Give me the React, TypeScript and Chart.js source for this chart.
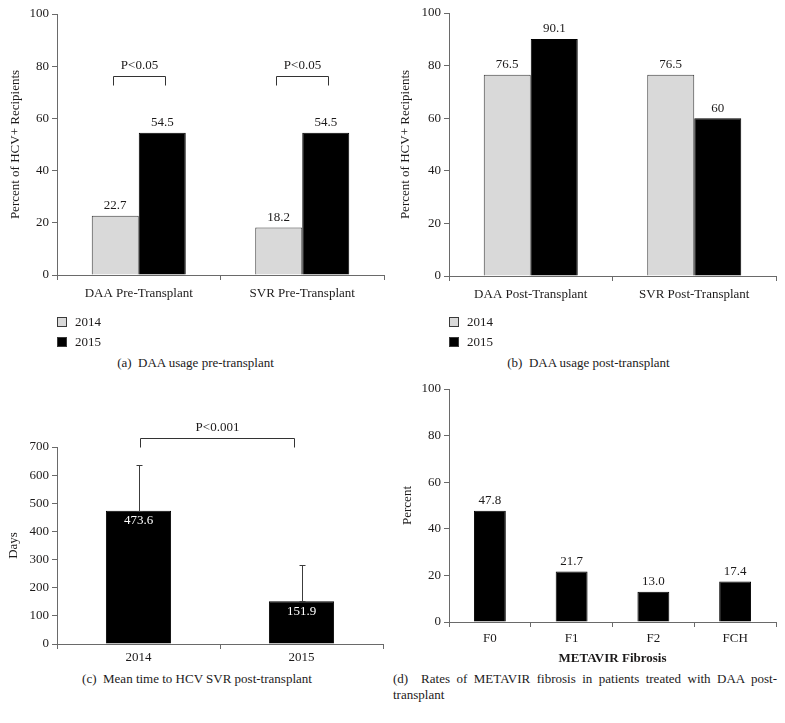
import React, { useEffect, useRef } from "react";
import { Chart, registerables } from "chart.js";

Chart.register(...registerables);

// ---------------- data ----------------
const legendLabels = ["2014", "2015"];

const preCategories = ["DAA Pre-Transplant", "SVR Pre-Transplant"];
const pre2014 = [22.7, 18.2];
const pre2015 = [54.5, 54.5];
const prePValues = ["P<0.05", "P<0.05"];

const postCategories = ["DAA Post-Transplant", "SVR Post-Transplant"];
const post2014 = [76.5, 76.5];
const post2015 = [90.1, 60];

const timeCategories = ["2014", "2015"];
const meanDays = [473.6, 151.9];
const meanDaysError = [162, 129];
const timePValue = "P<0.001";

const fibrosisCategories = ["F0", "F1", "F2", "FCH"];
const fibrosisValues = [47.8, 21.7, 13.0, 17.4];

const percentTicks = [0, 20, 40, 60, 80, 100];
const dayTicks = [0, 100, 200, 300, 400, 500, 600, 700];

const captionA = "(a)\u00a0\u00a0DAA usage pre-transplant";
const captionB = "(b)\u00a0\u00a0DAA usage post-transplant";
const captionC = "(c)\u00a0\u00a0Mean time to HCV SVR post-transplant";
const captionD =
  "(d)\u00a0\u00a0Rates of METAVIR fibrosis in patients treated with DAA post-transplant";

// ---------------- styles ----------------
const FONT = "'Liberation Serif', 'Times New Roman', Times, serif";
const TEXT = "#1c1a1a";
const AXIS = "#6a6a6a";
const GRAY = "#d9d9d9";
const BLACK = "#000000";
const EDGE = "#3a3a3a";
const F13 = { family: FONT, size: 13 };

function yScale(ticks: number[], title: string, titlePad: number) {
  return {
    min: ticks[0],
    max: ticks[ticks.length - 1],
    afterBuildTicks: (s: any) => {
      s.ticks = ticks.map((v) => ({ value: v }));
    },
    afterFit: (s: any) => {
      s.width = 57;
    },
    ticks: { font: F13, color: TEXT, padding: 3 },
    grid: { drawOnChartArea: false, drawTicks: true, tickLength: 5, color: AXIS },
    border: { display: true, color: AXIS, width: 1 },
    title: {
      display: true,
      text: title,
      font: F13,
      color: TEXT,
      padding: { top: titlePad, bottom: 0 },
    },
  };
}

function xScale(height: number, pad: number, title?: string) {
  return {
    type: "category",
    offset: true,
    afterFit: (s: any) => {
      s.height = height;
    },
    ticks: { font: F13, color: TEXT, padding: pad, maxRotation: 0, autoSkip: false },
    grid: { offset: true, drawOnChartArea: false, drawTicks: true, tickLength: 5, color: AXIS },
    border: { display: true, color: AXIS, width: 1 },
    title: title
      ? {
          display: true,
          text: title,
          font: { family: FONT, size: 13, weight: "bold" },
          color: TEXT,
          padding: { top: 0, bottom: 1 },
        }
      : { display: false },
  };
}

// ---------------- plugins ----------------
function valueLabels(format: (v: number) => string, inside = false) {
  return {
    id: "valueLabels",
    afterDatasetsDraw(chart: any) {
      const ctx = chart.ctx;
      ctx.save();
      ctx.font = `13px ${FONT}`;
      ctx.textAlign = "center";
      ctx.textBaseline = "middle";
      chart.data.datasets.forEach((ds: any, d: number) => {
        const meta = chart.getDatasetMeta(d);
        meta.data.forEach((bar: any, i: number) => {
          const v = ds.data[i];
          ctx.fillStyle = inside ? "#ffffff" : TEXT;
          const y = inside ? bar.y + 10 : bar.y - 10;
          ctx.fillText(format(v), bar.x, y);
        });
      });
      ctx.restore();
    },
  };
}

function legendBox(items: { label: string; color: string }[], x: number, y0: number, dy: number) {
  return {
    id: "legendBox",
    afterDraw(chart: any) {
      const ctx = chart.ctx;
      ctx.save();
      ctx.font = `13px ${FONT}`;
      ctx.textBaseline = "middle";
      ctx.textAlign = "left";
      items.forEach((it, i) => {
        const y = y0 + i * dy;
        ctx.fillStyle = it.color;
        ctx.fillRect(x, y - 5, 10, 10);
        ctx.strokeStyle = EDGE;
        ctx.lineWidth = 1;
        ctx.strokeRect(x + 0.5, y - 4.5, 9, 9);
        ctx.fillStyle = TEXT;
        ctx.fillText(it.label, x + 18, y + 0.5);
      });
      ctx.restore();
    },
  };
}

type Bracket = {
  a: [number, number];
  b: [number, number];
  label: string;
  dxA: number;
  dxB: number;
  topPx: number; // pixels above chart top
  legPx: number;
  textPx: number;
};

function brackets(list: Bracket[], baseValue: number) {
  return {
    id: "brackets",
    afterDatasetsDraw(chart: any) {
      const ctx = chart.ctx;
      const ys = chart.scales.y;
      ctx.save();
      ctx.strokeStyle = "#333333";
      ctx.lineWidth = 1;
      ctx.font = `13px ${FONT}`;
      ctx.textAlign = "center";
      ctx.textBaseline = "middle";
      ctx.fillStyle = TEXT;
      list.forEach((br) => {
        const ba = chart.getDatasetMeta(br.a[0]).data[br.a[1]];
        const bb = chart.getDatasetMeta(br.b[0]).data[br.b[1]];
        const x1 = Math.round(ba.x + br.dxA) + 0.5;
        const x2 = Math.round(bb.x + br.dxB) + 0.5;
        const base = ys.getPixelForValue(baseValue);
        const top = Math.round(base - br.topPx) + 0.5;
        const leg = top + br.legPx;
        ctx.beginPath();
        ctx.moveTo(x1, leg);
        ctx.lineTo(x1, top);
        ctx.lineTo(x2, top);
        ctx.lineTo(x2, leg);
        ctx.stroke();
        ctx.fillText(br.label, (x1 + x2) / 2, top - br.textPx);
      });
      ctx.restore();
    },
  };
}

function errorBars(errors: number[]) {
  return {
    id: "errorBars",
    afterDatasetsDraw(chart: any) {
      const ctx = chart.ctx;
      const ys = chart.scales.y;
      const ds = chart.data.datasets[0];
      const meta = chart.getDatasetMeta(0);
      ctx.save();
      ctx.strokeStyle = "#3c3c3c";
      ctx.lineWidth = 1;
      meta.data.forEach((bar: any, i: number) => {
        const x = Math.round(bar.x) + 0.5;
        const yTop = Math.round(ys.getPixelForValue(ds.data[i] + errors[i])) + 0.5;
        const yBase = Math.round(bar.y) + 0.5;
        ctx.beginPath();
        ctx.moveTo(x, yBase);
        ctx.lineTo(x, yTop);
        ctx.moveTo(x - 3, yTop);
        ctx.lineTo(x + 3, yTop);
        ctx.moveTo(x - 3, yBase);
        ctx.lineTo(x + 3, yBase);
        ctx.stroke();
      });
      ctx.restore();
    },
  };
}

const baseOptions = {
  responsive: false,
  animation: false,
  devicePixelRatio: 1,
  events: [],
};

// ---------------- configs ----------------
function pairConfig(
  categories: string[],
  v2014: number[],
  v2015: number[],
  yTitle: string,
  padTop: number,
  plotBottom: number,
  height: number,
  titlePad: number,
  extra: any[]
) {
  const xh = 30;
  return {
    type: "bar",
    data: {
      labels: categories,
      datasets: [
        {
          label: legendLabels[0],
          data: v2014,
          backgroundColor: GRAY,
          borderColor: EDGE,
          borderWidth: 1,
          categoryPercentage: 0.575,
          barPercentage: 1,
        },
        {
          label: legendLabels[1],
          data: v2015,
          backgroundColor: BLACK,
          borderColor: BLACK,
          borderWidth: 1,
          categoryPercentage: 0.575,
          barPercentage: 1,
        },
      ],
    },
    options: {
      ...baseOptions,
      layout: { padding: { top: padTop, right: 6, left: 0, bottom: height - plotBottom - xh } },
      plugins: { legend: { display: false }, tooltip: { enabled: false } },
      scales: { x: xScale(xh, 6), y: yScale(percentTicks, yTitle, titlePad) },
    },
    plugins: [
      valueLabels((v) => String(v)),
      legendBox(
        [
          { label: legendLabels[0], color: GRAY },
          { label: legendLabels[1], color: BLACK },
        ],
        57,
        322,
        20
      ),
      ...extra,
    ],
  };
}

function configA() {
  return pairConfig(preCategories, pre2014, pre2015, "Percent of HCV+ Recipients", 14, 275, 350, 8, [
    brackets(
      prePValues.map((p, i) => ({
        a: [0, i] as [number, number],
        b: [1, i] as [number, number],
        label: p,
        dxA: -2.5,
        dxB: 2.5,
        topPx: 199,
        legPx: 9,
        textPx: 11,
      })),
      0
    ),
  ]);
}

function configB() {
  return pairConfig(postCategories, post2014, post2015, "Percent of HCV+ Recipients", 13, 276, 350, 6, []);
}

function configC() {
  const height = 270;
  const plotBottom = 244;
  const xh = 24;
  return {
    type: "bar",
    data: {
      labels: timeCategories,
      datasets: [
        {
          data: meanDays,
          backgroundColor: BLACK,
          borderColor: BLACK,
          borderWidth: 1,
          categoryPercentage: 0.4,
          barPercentage: 1,
        },
      ],
    },
    options: {
      ...baseOptions,
      layout: { padding: { top: 47, right: 7, left: 0, bottom: height - plotBottom - xh } },
      plugins: { legend: { display: false }, tooltip: { enabled: false } },
      scales: { x: xScale(xh, 1), y: yScale(dayTicks, "Days", 6) },
    },
    plugins: [
      brackets(
        [
          {
            a: [0, 0],
            b: [0, 1],
            label: timePValue,
            dxA: 1.5,
            dxB: -7.5,
            topPx: 206,
            legPx: 9,
            textPx: 11,
          },
        ],
        0
      ),
      errorBars(meanDaysError),
      valueLabels((v) => String(v), true),
    ],
  };
}

function configD() {
  const height = 295;
  const plotBottom = 247;
  const xh = 45;
  return {
    type: "bar",
    data: {
      labels: fibrosisCategories,
      datasets: [
        {
          data: fibrosisValues,
          backgroundColor: BLACK,
          borderColor: BLACK,
          borderWidth: 1,
          categoryPercentage: 0.39,
          barPercentage: 1,
        },
      ],
    },
    options: {
      ...baseOptions,
      layout: { padding: { top: 14, right: 6, left: 0, bottom: height - plotBottom - xh } },
      plugins: { legend: { display: false }, tooltip: { enabled: false } },
      scales: { x: xScale(xh, 4, "METAVIR Fibrosis"), y: yScale(percentTicks, "Percent", 8) },
    },
    plugins: [valueLabels((v) => v.toFixed(1))],
  };
}

// ---------------- components ----------------
function ChartPanel(props: { left: number; top: number; width: number; height: number; build: () => any }) {
  const ref = useRef<HTMLCanvasElement>(null);
  useEffect(() => {
    const chart = new Chart(ref.current as HTMLCanvasElement, props.build());
    return () => chart.destroy();
  }, []);
  const { left, top, width, height } = props;
  return (
    <canvas
      ref={ref}
      width={width}
      height={height}
      style={{ position: "absolute", left, top, width, height }}
    />
  );
}

function Caption(props: { center: number; top: number; text: string }) {
  return (
    <div
      style={{
        position: "absolute",
        left: props.center - 200,
        top: props.top,
        width: 400,
        textAlign: "center",
        fontFamily: FONT,
        fontSize: 13,
        lineHeight: "16px",
        color: TEXT,
        whiteSpace: "nowrap",
      }}
    >
      {props.text}
    </div>
  );
}

export default function App() {
  return (
    <div
      style={{
        position: "absolute",
        left: 0,
        top: 0,
        width: 785,
        height: 723,
        background: "#ffffff",
        overflow: "hidden",
      }}
    >
      <ChartPanel left={0} top={0} width={390} height={350} build={configA} />
      <ChartPanel left={392} top={0} width={390} height={350} build={configB} />
      <ChartPanel left={0} top={400} width={390} height={270} build={configC} />
      <ChartPanel left={392} top={375} width={390} height={295} build={configD} />
      <Caption center={195.5} top={355} text={captionA} />
      <Caption center={588.5} top={355} text={captionB} />
      <Caption center={197} top={671} text={captionC} />
      <div
        style={{
          position: "absolute",
          left: 393,
          top: 671,
          width: 384,
          textAlign: "justify",
          fontFamily: FONT,
          fontSize: 13,
          lineHeight: "16px",
          color: TEXT,
        }}
      >
        {captionD}
      </div>
    </div>
  );
}
